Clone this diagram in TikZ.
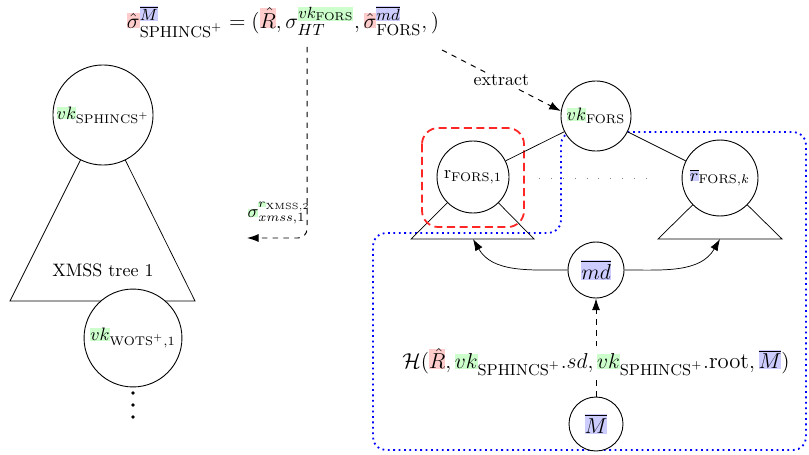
\documentclass[tikz,border=0pt]{standalone}
\usepackage{amsmath}
\usetikzlibrary{arrows.meta}
\setlength{\fboxsep}{0pt}
\definecolor{hlred}{RGB}{255,204,204}
\definecolor{hlgreen}{RGB}{204,255,204}
\definecolor{hlblue}{RGB}{204,204,255}
% highlighted math term, keeping the current math style
\newcommand\hlm[2]{\mathchoice
  {\colorbox{#1}{$\displaystyle#2$}}%
  {\colorbox{#1}{$\textstyle#2$}}%
  {\colorbox{#1}{$\scriptstyle#2$}}%
  {\colorbox{#1}{$\scriptscriptstyle#2$}}}
\begin{document}
\begin{tikzpicture}[x=0.5556pt,y=-0.5556pt,
  vtx/.style={draw,circle,fill=white,inner sep=0pt,line width=0.5pt},
  tip/.style={-{Latex[length=6.5pt,width=4.5pt]}},
  flow/.style={dashed,line width=0.55pt},
  formula/.style={font=\fontsize{12.6}{15}\selectfont},
  region/.style={blue,dotted,line width=1pt,rounded corners=7pt},
  focus/.style={red!85,dash pattern=on 4.5pt off 2.5pt,line width=1pt,rounded corners=9pt},
  gap/.style={gray,dash pattern=on 0.6pt off 6pt,line width=0.5pt}]
\useasboundingbox (0,0) rectangle (809,454);

% tree centres
\coordinate (cS) at (103,115);
\coordinate (cW) at (133,338);
\coordinate (cF) at (596,116);
\coordinate (c1) at (473,177);
\coordinate (ck) at (720,178);
\coordinate (t1) at (473,239);
\coordinate (tk) at (720,239);

% region of the FORS verification
\draw[region] (561,132) -- (806,132) -- (806,450) -- (373,450) -- (373,233) -- (561,233) -- cycle;

% subtrees
\draw (cS) -- (10,301) -- (195,301) -- cycle;
\draw (c1) -- (411,239) -- (534,239) -- cycle;
\draw (ck) -- (658,239) -- (782,239) -- cycle;
\draw[focus] (422,128) rectangle (524,227);
\draw[gap] (539,178) -- (647,178);

% signature
\node[formula] (sig) at (283,22)
  {$\hlm{hlred}{\hat\sigma}^{\hlm{hlblue}{\overline{M}}}_{\text{SPHINCS}^+}
   = (\hlm{hlred}{\hat R}, \sigma^{\hlm{hlgreen}{vk_{\text{FORS}}}}_{HT},
   \hlm{hlred}{\hat\sigma}^{\hlm{hlblue}{\overline{md}}}_{\text{FORS}}, )$};
\coordinate (htfoot) at (307,47);
\coordinate (xtip) at (247,238);
\coordinate (exstart) at (442,50);

% hypertree side
\node[vtx,minimum size=55.6pt] (vkS) at (cS) {$\hlm{hlgreen}{vk}_{\text{SPHINCS}^+}$};
\node (xt) at (103,270) {XMSS tree 1};
\node[vtx,minimum size=54.4pt] (vkW) at (cW) {$\hlm{hlgreen}{vk}_{\text{WOTS}^+,1}$};
\foreach \yy in {393,405,417} \fill (133,\yy) circle (1.1pt);

% FORS side
\node[vtx,minimum size=38.9pt] (vkF) at (cF) {$\hlm{hlgreen}{vk}_{\text{FORS}}$};
\node[vtx,minimum size=40pt] (rF1) at (c1) {$\mathrm{r}_{\text{FORS},1}$};
\node[vtx,minimum size=42.2pt] (rFk) at (ck) {$\hlm{hlblue}{\overline{r}}_{\text{FORS},k}$};
\node[vtx,minimum size=31.1pt,font=\large] (md) at (596,270) {$\hlm{hlblue}{\overline{md}}$};
\node[formula,inner sep=1pt] (H) at (596,362)
  {$\mathcal{H}(\hlm{hlred}{\hat R}, \hlm{hlgreen}{vk}_{\text{SPHINCS}^+}.sd,
   \hlm{hlgreen}{vk}_{\text{SPHINCS}^+}.\text{root}, \hlm{hlblue}{\overline{M}})$};
\node[vtx,minimum size=30pt,font=\large] (Mb) at (596,424) {$\hlm{hlblue}{\overline{M}}$};

% connectors
\draw (vkF) -- (rF1);
\draw (vkF) -- (rFk);
\draw[tip] (md.west) to[out=180,in=-60] (t1);
\draw[tip] (md.east) to[out=0,in=-120] (tk);
\draw[flow] (Mb) -- (H);
\draw[flow,tip] (H) -- (md);
\draw[flow,tip] (exstart) -- node[fill=white,inner sep=1pt] (ext) {extract} (vkF.172);
\draw[flow,tip,rounded corners=5pt] (htfoot) |- (xtip);
\node[anchor=east,inner sep=0pt] (sx) at (311,213)
  {$\hlm{hlgreen}{\sigma}^{\hlm{hlgreen}{r}_{\text{XMSS},2}}_{xmss,1}$};
\end{tikzpicture}
\end{document}
